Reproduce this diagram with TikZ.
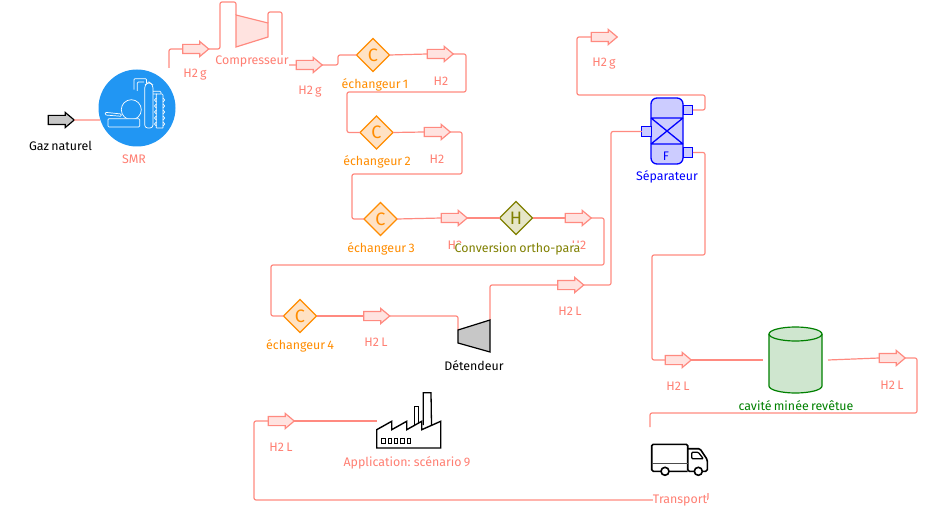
\documentclass[tikz,border=0pt]{standalone}
\usepackage{fontspec}
\setmainfont[WordSpace=0.7]{Fira Sans}
\usepackage{xcolor}
\usetikzlibrary{positioning,shapes.geometric,shapes.arrows}
\definecolor{saumon}{HTML}{FF8A80}
\definecolor{saumontxt}{HTML}{FF7F73}
\definecolor{saumonclair}{HTML}{FFE3E0}
\definecolor{orangefort}{HTML}{FF8C00}
\definecolor{orangeclair}{HTML}{FFE2C4}
\definecolor{olive2}{HTML}{808000}
\definecolor{oliveclair}{HTML}{E6E6C8}
\definecolor{bleufort}{HTML}{0000FF}
\definecolor{bleuclair}{HTML}{CCCCFF}
\definecolor{vertfort}{HTML}{008000}
\definecolor{vertclair}{HTML}{CFE6CF}
\definecolor{bleusmr}{HTML}{2196F3}

\begin{document}
\begin{tikzpicture}[x=1pt, y=-1pt, line width=1.2pt, font=\fontsize{12.4}{14}\selectfont]
    \tikzstyle{flux}=[draw=saumon, rounded corners=2pt]
    \tikzstyle{fleche}=[single arrow, draw=saumon, fill=saumonclair, minimum height=26, single arrow head extend=3, single arrow tip angle=80, inner xsep=0, inner ysep=4, outer sep=0, xshift=-2]
    \tikzstyle{echangeur}=[diamond, shape aspect=1, draw=orangefort, fill=orangeclair, text=orangefort, minimum width=33, minimum height=33, inner sep=0, outer sep=0, font=\fontsize{18}{18}\selectfont]
    \tikzstyle{lab}=[text=saumontxt, inner sep=0]
    \tikzstyle{labor}=[text=orangefort, inner sep=0]
    \tikzstyle{masque}=[fill=white, inner sep=0]
    \tikzstyle{buse}=[rectangle, draw=bleufort, fill=bleuclair, line width=1.3pt, minimum width=9.5, minimum height=9.5, inner sep=0, outer sep=0]

    \useasboundingbox (0,0) rectangle (926,513);

    \node[circle, fill=bleusmr, minimum size=77, inner sep=0] (smr) at (137,108) {};
    \node[fleche, draw=black, fill=black!22] (gaz) at (60.5,120) {};

    \node[fleche] (fA) at (195,49) {};
    \node[fleche] (fB) at (308.5,65) {};
    \node[fleche] (fC) at (439.5,54) {};
    \node[fleche] (fD) at (436.5,132) {};
    \node[fleche] (fE) at (453.5,218) {};
    \node[fleche] (fF) at (577.5,218) {};
    \node[fleche] (fG) at (376,316) {};
    \node[fleche] (fH) at (570,285) {};
    \node[fleche] (fI) at (603.5,37) {};
    \node[fleche] (fJ) at (677.5,360) {};
    \node[fleche] (fK) at (891.5,358) {};
    \node[fleche] (fL) at (280.5,421) {};

    \node[echangeur] (echA) at (373,55) {C};
    \node[echangeur] (echB) at (376.5,132.5) {C};
    \node[echangeur] (echC) at (380.5,219) {C};
    \node[echangeur] (echD) at (300,316) {C};
    \node[echangeur, draw=olive2, fill=oliveclair, text=olive2] (conv) at (516,218) {H};

    \coordinate (smrOut) at (169,68);
    \coordinate (compIn) at (236,15);
    \coordinate (compOut) at (268,23);
    \coordinate (detIn) at (458,330);
    \coordinate (detOut) at (490,320);
    \coordinate (cavIn) at (763,360);
    \coordinate (cavOut) at (828,360);
    \coordinate (truckIn) at (650,427);
    \coordinate (truckOut) at (708,493);
    \coordinate (appIn) at (377,421);

    \node[rectangle, rounded corners=6pt, draw=bleufort, fill=bleuclair, line width=1.3pt, minimum width=32, minimum height=66, inner sep=0, outer sep=0] (sep) at (667,131) {};
    \node[buse] (sepG) at (646.5,131.5) {};
    \node[buse] (sepH) at (688,110) {};
    \node[buse] (sepB) at (688,152.5) {};
    \node[text=bleufort, inner sep=0] (sepF) at (666,156) {F};
    \coordinate (sepA) at (651,118);
    \coordinate (sepC) at (683,118);
    \coordinate (sepD) at (651,144);
    \coordinate (sepE) at (683,144);

    \draw[bleufort, line width=1.3pt] (sepA) -- (sepC) (sepD) -- (sepE) (sepA) -- (sepE) (sepC) -- (sepD);

    \draw[vertfort, fill=vertclair] (769,334) -- (769,386) arc [start angle=180, end angle=0, x radius=26.5, y radius=7] -- (822,334) arc [start angle=0, end angle=-180, x radius=26.5, y radius=7] -- cycle;
    \draw[vertfort] (769,334) arc [start angle=180, end angle=0, x radius=26.5, y radius=7];

    \draw[flux] (gaz.tip) -- (smr.198);
    \draw[flux] (smrOut) |- (fA.tail);
    \draw[flux] (fA.tip) -- (220,49) -- (220,2) -- (236,2) -- (compIn);
    \draw[flux] (compOut) -- (268,12) -- (282,12) -- (282,65) -- (fB.tail);
    \draw[flux] (fB.tip) -- (338,65) -- (338,55) -- (echA.west);
    \draw[flux] (echA.east) -- (fC.tail);
    \draw[flux] (fC.tip) -- (466,54) -- (466,92) -- (347,92) -- (347,132.5) -- (echB.west);
    \draw[flux] (echB.east) -- (fD.tail);
    \draw[flux] (fD.tip) -- (462,132) -- (462,174) -- (352,174) -- (352,219) -- (echC.west);
    \draw[flux] (echC.east) -- (fE.tail);
    \draw[flux] (fE.tip) -- (conv.west);
    \draw[flux] (conv.east) -- (fF.tail);
    \draw[flux] (fF.tip) -- (604,218) -- (604,265) -- (271,265) -- (271,316) -- (echD.west);
    \draw[flux] (echD.east) -- (fG.tail);
    \draw[flux] (fG.tip) -- (458,316) -- (detIn);
    \draw[flux] (detOut) -- (490,285) -- (fH.tail);
    \draw[flux] (fH.tip) -- (611,285) -- (611,131.5) -- (sepG.west);
    \draw[flux] (sepH.east) -- (705,110) -- (705,95) -- (577,95) -- (577,37) -- (fI.tail);
    \draw[flux] (sepB.east) -- (705,152.5) -- (705,255) -- (652,255) -- (652,360) -- (fJ.tail);
    \draw[flux] (fJ.tip) -- (cavIn);
    \draw[flux] (cavOut) -- (fK.tail);
    \draw[flux] (fK.tip) -- (917,358) -- (917,413) -- (650,413) -- (truckIn);
    \draw[flux] (truckOut) -- (708,500) -- (254,500) -- (254,421) -- (fL.tail);
    \draw[flux] (fL.tip) -- (appIn);

    \draw[saumon, fill=saumonclair] (compIn) -- (compOut) -- (268,37) -- (236,47) -- cycle;
    \draw[black, fill=black!22] (detIn) -- (detOut) -- (490,352) -- (458,343) -- cycle;

    \draw[white, line width=0.7pt] (131.3,109.7) circle (10);
    \draw[white, line width=0.7pt, fill=bleusmr, rounded corners=1pt] (108,118.7) rectangle (139.7,127);
    \draw[white, line width=0.7pt, fill=bleusmr, rounded corners=1pt] (105.3,112.3) -- (121.3,114) -- (121.3,116.3) -- (105.3,115) -- cycle;
    \draw[white, line width=0.7pt, rounded corners=1pt] (134,89.7) -- (134,78.7) -- (146.5,78.7) -- (146.5,83) (137.3,91) -- (137.3,82) -- (144,82);
    \draw[white, line width=0.7pt, fill=bleusmr, rounded corners=3pt] (144.7,128) -- (144.7,85) -- (149,82) -- (153,85) -- (153,128) -- cycle;
    \draw[white, line width=0.7pt, rounded corners=1pt] (153,91.3) -- (161,91.3) -- (161,94) (153,94) -- (157,94);
    \draw[white, line width=0.7pt, rounded corners=1pt] (156.3,128) -- (156.3,94) (163,128) -- (163,94) -- (156.3,94) (156.3,128) -- (163,128);
    \foreach \rid in {98,104,110,116,122}
      \draw[white, line width=0.7pt] (163,\rid) -- (164.7,\rid+2) -- (163,\rid+4) (156.3,\rid) -- (154.5,\rid+2) -- (156.3,\rid+4);

    \draw[black, line width=1.4pt] (376.7,448) -- (376.7,429.7) -- (391.7,421.3) -- (391.7,429.7) -- (406.7,421.3) -- (406.7,429.7) -- (421.7,421.3) -- (421.7,429.7) -- (440.7,421.3) -- (440.7,448) -- cycle;
    \draw[black, line width=1.3pt] (423.3,425) -- (423.3,392.7) -- (431,392.7) -- (431.5,425);
    \draw[black, line width=1pt] (414.7,425) -- (414.7,406.3) -- (418.3,406.3) -- (418.3,424);
    \foreach \fen in {381.7,388.1,394.5,400.9,407.3}
      \draw[black, line width=1pt] (\fen,438.5) rectangle ++(3.4,4.6);

    \draw[black, line width=1.6pt, rounded corners=1.5pt] (661,471.3) -- (651.7,471.3) -- (651.7,444.3) -- (687.7,444.3) -- (687.7,471.3) -- (694.3,471.3);
    \draw[black, line width=1.6pt, rounded corners=1.5pt] (669,471.3) -- (687.7,471.3) (687.7,448.7) -- (700,448.7) -- (707.3,459.7) -- (707.3,471.3) -- (702.3,471.3);
    \draw[black, line width=1.3pt, rounded corners=1pt] (691.7,452.3) -- (698.3,452.3) -- (703.3,458.7) -- (691.7,458.7) -- cycle;
    \draw[black!70, line width=1pt] (651.7,463) -- (687.7,463);
    \draw[black, line width=1.6pt] (665,471.3) circle (4);
    \draw[black, line width=1.6pt] (698.3,471.3) circle (4);

    \node[inner sep=0] (lgaz) at (60.5,146) {Gaz naturel};
    \node[lab] (lsmr) at (134,159) {SMR};
    \node[lab] (lA) at (195,75) {H2 g};
    \node[lab, masque] (lcomp) at (252,61) {Compresseur};
    \node[lab] (lB) at (310,92) {H2 g};
    \node[labor] (lechA) at (375,85) {échangeur 1};
    \node[lab] (lC) at (441,81) {H2};
    \node[labor] (lechB) at (377,162) {échangeur 2};
    \node[lab] (lD) at (437,159) {H2};
    \node[labor] (lechC) at (381,249) {échangeur 3};
    \node[lab] (lE) at (455,245) {H2};
    \node[lab] (lF) at (579,245) {H2};
    \node[text=olive2, masque] (lconv) at (517.5,249) {Conversion ortho-para};
    \node[labor] (lechD) at (300,346) {échangeur 4};
    \node[lab] (lG) at (376,342) {H2 L};
    \node[inner sep=0] (ldet) at (474,366) {Détendeur};
    \node[lab] (lH) at (570,311) {H2 L};
    \node[text=bleufort, inner sep=0] (lsep) at (667,177) {Séparateur};
    \node[lab] (lI) at (604,64) {H2 g};
    \node[lab] (lJ) at (678,386) {H2 L};
    \node[text=vertfort, inner sep=0] (lcav) at (796,406) {cavité minée revêtue};
    \node[lab] (lK) at (892,385) {H2 L};
    \node[lab] (lapp) at (407,463) {Application: scénario 9};
    \node[lab] (lL) at (281,447) {H2 L};
    \node[lab, masque] (ltrans) at (680,501) {Transport};
\end{tikzpicture}
\end{document}
